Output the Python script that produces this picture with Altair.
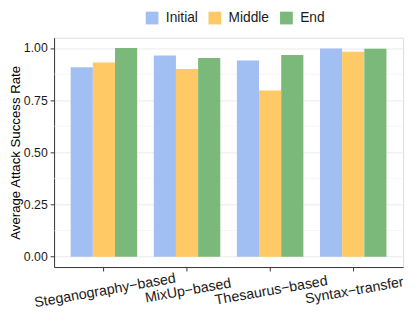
import altair as alt
import pandas as pd

categories = ["Steganography\u2212based", "MixUp\u2212based", "Thesaurus\u2212based", "Syntax\u2212transfer"]
phases = ["Initial", "Middle", "End"]
initial = [0.908, 0.965, 0.941, 0.998]
middle = [0.931, 0.900, 0.796, 0.983]
end = [1.000, 0.953, 0.967, 0.997]
colors = ["#a2bff4", "#ffc966", "#7ab97a"]
major_ticks = [0.0, 0.25, 0.5, 0.75, 1.0]
minor_ticks = [0.125, 0.375, 0.625, 0.875]

rows = []
for i, c in enumerate(categories):
    for p, vals in zip(phases, [initial, middle, end]):
        rows.append({"category": c, "phase": p, "value": vals[i]})
df = pd.DataFrame(rows)

yscale = alt.Scale(domain=[-0.05, 1.05], nice=False, zero=False)
font = "Liberation Sans"

minor = alt.Chart(pd.DataFrame({"v": minor_ticks})).mark_rule(
    color="#f2f2f2", strokeWidth=0.6
).encode(y=alt.Y("v:Q", scale=yscale))

bars = alt.Chart(df).mark_bar().encode(
    x=alt.X(
        "category:N",
        sort=categories,
        scale=alt.Scale(paddingInner=0.2, paddingOuter=0.2),
        axis=alt.Axis(
            title=None, labelAngle=-10, labelAlign="center", labelBaseline="top",
            labelFontSize=14.5, labelColor="#1a1a1a", labelFont=font, labelPadding=13,
            bandPosition=0.5, tickSize=4, tickColor="#333", domainColor="#333",
            gridColor="#ebebeb", gridWidth=1, labelOverlap=False,
        ),
    ),
    xOffset=alt.XOffset("phase:N", sort=phases),
    y=alt.Y(
        "value:Q",
        scale=yscale,
        axis=alt.Axis(
            title="Average Attack Success Rate", values=major_ticks, format=".2f",
            labelFontSize=12.5, labelColor="#1a1a1a", labelFont=font, labelPadding=3,
            titleFontSize=13.5, titleFont=font, titleFontWeight="normal", titleColor="#000",
            titleX=-39, titleY=117, titleBaseline="middle", titleAlign="center", titleAngle=-90,
            tickSize=4, tickColor="#333", domainColor="#333",
            gridColor="#ebebeb", gridWidth=1,
        ),
    ),
    y2=alt.datum(0),
    color=alt.Color(
        "phase:N",
        sort=phases,
        scale=alt.Scale(domain=phases, range=colors),
        legend=alt.Legend(
            title=None, orient="none", direction="horizontal", legendX=93, legendY=-27,
            symbolType="square", symbolSize=169, symbolStrokeWidth=0,
            labelFontSize=14, labelFont=font, labelColor="#1a1a1a", columnPadding=10,
            labelOffset=7,
        ),
    ),
)

chart = alt.layer(minor, bars).properties(
    width=356, height=234, autosize=alt.AutoSizeParams(type="none"),
    padding={"left": 47, "top": 27, "right": 4, "bottom": 63},
).configure_view(stroke="#999999", strokeWidth=1).configure(background="white")

chart.save("out.html", embed_options={"renderer": "svg", "actions": False})
